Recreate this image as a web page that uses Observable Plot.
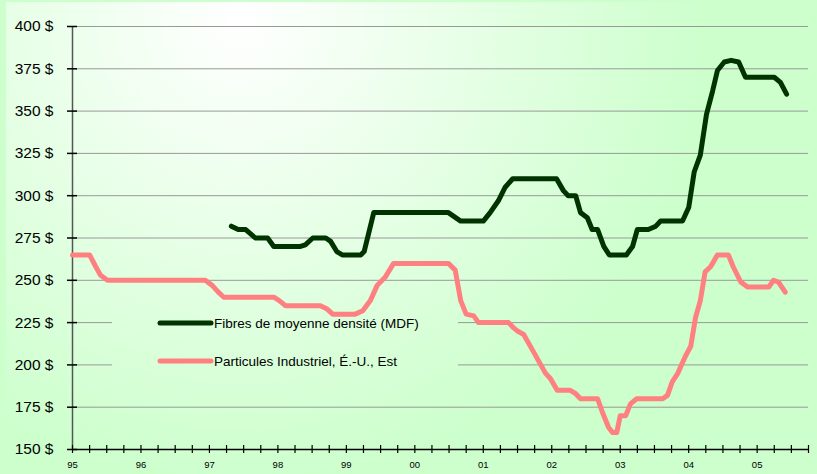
<!DOCTYPE html>
<html><head><meta charset="utf-8">
<script src="https://cdn.jsdelivr.net/npm/d3@7"></script>
<script src="https://cdn.jsdelivr.net/npm/@observablehq/plot@0.6"></script>
<style>html,body{margin:0;padding:0;background:#ccffcc;overflow:hidden;}</style>
</head><body><div id="chart"></div>
<script>
const seriesNames = ["Fibres de moyenne densité (MDF)", "Particules Industriel, É.-U., Est"];
const seriesColors = ["#003300", "#ff8080"];

const mdfDates = [1997.32,1997.42,1997.53,1997.67,1997.85,1997.94,1998.33,1998.40,1998.51,1998.70,1998.77,1998.86,1998.94,1999.21,1999.26,1999.40,2000.49,2000.67,2001.00,2001.10,2001.22,2001.32,2001.43,2002.07,2002.17,2002.24,2002.35,2002.42,2002.52,2002.59,2002.67,2002.76,2002.84,2003.09,2003.18,2003.25,2003.41,2003.52,2003.59,2003.91,2004.00,2004.08,2004.17,2004.26,2004.35,2004.42,2004.52,2004.62,2004.73,2004.83,2005.25,2005.34,2005.43];
const mdfValues = [282,280,280,275,275,270,270,271,275,275,273,267,265,265,267,290,290,285,285,290,297,305,310,310,303,300,300,290,287,280,280,270,265,265,270,280,280,282,285,285,293,314,324,348,362,374,379,380,379,370,370,367,360];

const partDates = [1995.00,1995.25,1995.34,1995.41,1995.51,1996.94,1997.04,1997.13,1997.21,1997.94,1998.02,1998.11,1998.62,1998.72,1998.80,1999.13,1999.24,1999.35,1999.45,1999.57,1999.69,2000.49,2000.59,2000.67,2000.75,2000.86,2000.93,2001.37,2001.44,2001.50,2001.59,2001.73,2001.84,2001.91,2001.98,2002.08,2002.27,2002.35,2002.42,2002.67,2002.74,2002.83,2002.89,2002.95,2003.00,2003.08,2003.15,2003.24,2003.62,2003.69,2003.76,2003.84,2003.95,2004.03,2004.10,2004.17,2004.24,2004.32,2004.42,2004.58,2004.65,2004.76,2004.86,2005.17,2005.24,2005.31,2005.41];
const partValues = [265,265,258,253,250,250,247,243,240,240,238,235,235,233,230,230,232,238,247,252,260,260,256,238,230,229,225,225,222,220,218,208,200,195,192,185,185,183,180,180,172,163,160,160,170,170,177,180,180,182,190,195,205,211,228,238,255,258,265,265,258,249,246,246,250,249,243];

const yearTicks = [1995,1996,1997,1998,1999,2000,2001,2002,2003,2004,2005];
const yearLabels = ["95","96","97","98","99","00","01","02","03","04","05"];
const quarterTicks = d3.range(1995, 2005.76, 0.25);
const yTicks = [150,175,200,225,250,275,300,325,350,375,400];
const yLabels = yTicks.map(v => v + " $");

const data = [
  ...mdfDates.map((t, i) => ({t, v: mdfValues[i], s: seriesNames[0]})),
  ...partDates.map((t, i) => ({t, v: partValues[i], s: seriesNames[1]}))
];

const plot = Plot.plot({
  width: 817, height: 474,
  marginLeft: 72, marginRight: 9, marginTop: 26, marginBottom: 25,
  style: {background: "transparent", fontFamily: "'Liberation Sans', Arial, sans-serif", color: "#000"},
  x: {domain: [1995, 2005.75], label: null},
  y: {domain: [150, 400], label: null},
  color: {domain: seriesNames, range: seriesColors},
  marks: [
    Plot.gridY({ticks: yTicks, stroke: "#999", strokeOpacity: 1, strokeWidth: 1}),
    Plot.ruleX([1995], {stroke: "#555", strokeWidth: 1.5}),
    Plot.ruleY([150], {stroke: "#000", strokeWidth: 1.5}),
    Plot.axisY({ticks: yTicks, tickSize: 10, dx: 5, tickFormat: () => "", label: null, stroke: "#000", strokeWidth: 1.5}),
    Plot.axisY({ticks: yTicks, tickSize: 0, tickPadding: 19, label: null, tickFormat: d => yLabels[yTicks.indexOf(d)], fontSize: 15.5, fill: "#000"}),
    Plot.axisX({ticks: quarterTicks, tickSize: 8, dy: -4, tickFormat: () => "", label: null, stroke: "#000", strokeWidth: 1.2}),
    Plot.axisX({ticks: yearTicks, tickSize: 0, tickPadding: 12, label: null, tickFormat: d => yearLabels[yearTicks.indexOf(d)], fontSize: 9.5, fill: "#000"}),
    Plot.line(data, {x: "t", y: "v", stroke: "s", z: "s", strokeWidth: 5, strokeLinejoin: "round", strokeLinecap: "round"})
  ]
});

const svg = d3.select(plot);
const defs = svg.insert("defs", ":first-child");
const g = defs.append("radialGradient").attr("id", "bg").attr("gradientUnits", "userSpaceOnUse")
  .attr("cx", 240).attr("cy", 20).attr("r", 470);
g.append("stop").attr("offset", 0).attr("stop-color", "#ffffff");
g.append("stop").attr("offset", 1).attr("stop-color", "#ccffcc");
svg.insert("rect", "defs + *").attr("x", 6).attr("y", 2).attr("width", 811).attr("height", 472).attr("fill", "url(#bg)");

// legend box (masks gridlines) and entries
const grid = plot.querySelector('g[aria-label="y-grid"]');
const mask = document.createElementNS("http://www.w3.org/2000/svg", "rect");
mask.setAttribute("x", 112); mask.setAttribute("y", 318);
mask.setAttribute("width", 346); mask.setAttribute("height", 54);
mask.setAttribute("fill", "url(#bg)");
grid.after(mask);

const leg = svg.append("g").attr("text-anchor", "start");
seriesNames.forEach((name, i) => {
  const y = 323 + i * 38;
  leg.append("line").attr("x1", 160).attr("x2", 211).attr("y1", y).attr("y2", y)
    .attr("stroke", seriesColors[i]).attr("stroke-width", 5).attr("stroke-linecap", "round");
  leg.append("text").attr("x", 214).attr("y", y).attr("dy", "0.36em")
    .attr("text-anchor", "start").attr("font-size", 13.5).attr("fill", "#000").text(name);
});

document.getElementById("chart").appendChild(plot);
</script>
</body></html>
